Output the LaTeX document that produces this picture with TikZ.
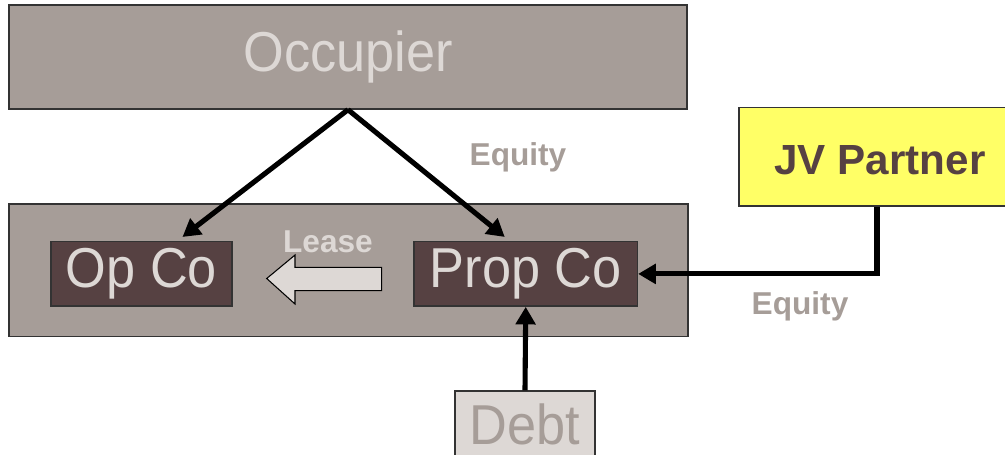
\documentclass[tikz,border=0pt]{standalone}
\usepackage{fontspec}
\setmainfont{Liberation Sans}
\newfontfamily\narrowsans[FakeStretch=0.93]{Liberation Sans}
\usepackage{tikz}
\usetikzlibrary{arrows.meta}

\definecolor{taupe}{HTML}{A69D98}
\definecolor{cocoa}{HTML}{564142}
\definecolor{mist}{HTML}{DDD8D5}
\definecolor{lemon}{HTML}{FFFF66}

\begin{document}
\begin{tikzpicture}[x=0.02cm, y=-0.02cm,
	box/.style={draw=black!80, line width=0.8pt, inner sep=0pt},
	bigtext/.style={font=\narrowsans\fontsize{32}{38}\selectfont},
	smalltext/.style={font=\fontsize{18}{22}\selectfont\bfseries, text=taupe},
	link/.style={line width=2.9pt, -{Triangle[length=10pt,width=11pt]}}]
	\useasboundingbox (0,0) rectangle (1005,454);
	\clip (0,0) rectangle (1005,454);

	% boxes
	\node[box, fill=taupe, text=mist, bigtext, minimum width=13.56cm, minimum height=2.08cm] (occupier) at (348,57) {Occupier};
	\node[box, fill=taupe, minimum width=13.58cm, minimum height=2.65cm] (group) at (348.5,270.3) {};
	\node[box, fill=cocoa, text=mist, bigtext, minimum width=3.62cm, minimum height=1.29cm] (opco) at (141.5,273.9) {Op Co};
	\node[box, fill=cocoa, text=mist, bigtext, minimum width=4.47cm, minimum height=1.29cm] (propco) at (525.75,273.9) {Prop Co};
	\node[box, fill=mist, text=taupe, bigtext, minimum width=2.8cm, minimum height=1.32cm] (debt) at (525,424) {Debt};
	\node[box, fill=lemon, text=cocoa, minimum width=5.52cm, minimum height=1.97cm] (jv) at (877,156.6) {};
	\node[font=\fontsize{24}{28}\selectfont\bfseries, text=cocoa] (jvtext) at (880,160) {JV Partner};

	% labels
	\node[smalltext] (eqtop) at (518,157) {Equity};
	\node[smalltext] (eqright) at (800,306) {Equity};
	\node[smalltext, text=mist] (lease) at (328,241.5) {Lease};

	% lease arrow
	\draw[fill=mist, line width=0.6pt] (381.6,267.3) -- (295,267.3) -- (295,255) -- (266.7,278.5)
		-- (295,304) -- (295,290.7) -- (381.6,290.7) -- cycle;

	% connectors
	\draw[link] (occupier.south) -- ([shift={(41,-4)}]opco.north);
	\draw[link] (occupier.south) -- ([shift={(-21,-4)}]propco.north);
	\draw[link] (jv.south) |- (propco.east);
	\draw[link] (debt.north) -- (propco.south);
\end{tikzpicture}
\end{document}
